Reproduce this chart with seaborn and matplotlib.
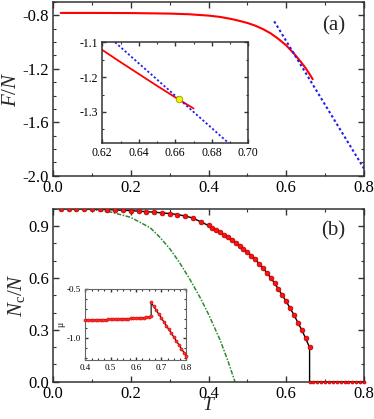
import numpy as np
import pandas as pd
import matplotlib
matplotlib.use("Agg")
import matplotlib.pyplot as plt
import seaborn as sns
from matplotlib.ticker import MultipleLocator, FormatStrFormatter

#---------------------------------------------------
#   data
#---------------------------------------------------
# (a) free energy per particle
T_F = [0.02, 0.10, 0.20, 0.30, 0.35, 0.40, 0.43, 0.46, 0.48, 0.50,
       0.52, 0.54, 0.56, 0.58, 0.60, 0.62, 0.64, 0.65, 0.66, 0.668]
F_N = [-0.782, -0.782, -0.783, -0.787, -0.792, -0.802, -0.812, -0.828, -0.842, -0.857,
       -0.877, -0.903, -0.935, -0.977, -1.025, -1.087, -1.157, -1.196, -1.240, -1.278]
# tangent line (blue dotted)
T_tan = [0.569, 0.800]
F_tan = [-0.845, -1.947]
# inset (a)
T_F_in = [0.620, 0.630, 0.640, 0.650, 0.660, 0.670]
F_N_in = [-1.122, -1.157, -1.191, -1.225, -1.258, -1.290]
T_tan_in = [0.627, 0.690]
F_tan_in = [-1.100, -1.393]
T_star = [0.662]
F_star = [-1.262]

# (b) condensate fraction
T_nc = [0.02, 0.04, 0.06, 0.08, 0.10, 0.12, 0.14, 0.16, 0.18, 0.20,
        0.22, 0.24, 0.26, 0.28, 0.30, 0.32, 0.34, 0.36, 0.38, 0.40,
        0.41, 0.42, 0.43, 0.44, 0.45, 0.46, 0.47, 0.48, 0.49, 0.50,
        0.51, 0.52, 0.53, 0.54, 0.55, 0.56, 0.57, 0.58, 0.59, 0.60,
        0.61, 0.62, 0.63, 0.64, 0.65, 0.66]
Nc_N = [0.999, 0.999, 0.998, 0.998, 0.997, 0.996, 0.995, 0.993, 0.991, 0.989,
        0.986, 0.983, 0.980, 0.976, 0.972, 0.966, 0.958, 0.946, 0.924, 0.903,
        0.888, 0.877, 0.864, 0.850, 0.836, 0.821, 0.804, 0.786, 0.769, 0.750,
        0.728, 0.708, 0.682, 0.657, 0.630, 0.601, 0.569, 0.534, 0.499, 0.464,
        0.424, 0.386, 0.341, 0.299, 0.250, 0.198]
T_zero = [0.66, 0.67, 0.68, 0.69, 0.70, 0.71, 0.72, 0.73, 0.74, 0.75,
          0.76, 0.77, 0.78, 0.79, 0.80]
Nc_zero = [0.0] * len(T_zero)
# green dash-dot curve
T_green = [0.0, 0.05, 0.10, 0.15, 0.20, 0.25, 0.275, 0.30, 0.325, 0.35,
           0.38, 0.40, 0.43, 0.45, 0.468]
N_green = [1.0, 0.999, 0.995, 0.980, 0.950, 0.890, 0.835, 0.770, 0.690, 0.600,
           0.480, 0.390, 0.240, 0.120, 0.0]
# inset (b) chemical potential
T_mu = [0.40, 0.41, 0.42, 0.43, 0.44, 0.45, 0.46, 0.47, 0.48, 0.49,
        0.50, 0.51, 0.52, 0.53, 0.54, 0.55, 0.56, 0.57, 0.58, 0.59,
        0.60, 0.61, 0.62, 0.63, 0.64, 0.65, 0.66,
        0.66, 0.67, 0.68, 0.69, 0.70, 0.71, 0.72, 0.73, 0.74, 0.75,
        0.76, 0.77, 0.78, 0.79, 0.80]
mu = [-0.817, -0.816, -0.815, -0.815, -0.814, -0.813, -0.812, -0.811, -0.810, -0.809,
      -0.808, -0.807, -0.806, -0.805, -0.804, -0.803, -0.801, -0.800, -0.799, -0.797,
      -0.796, -0.794, -0.792, -0.790, -0.787, -0.784, -0.778,
      -0.637, -0.676, -0.715, -0.754, -0.793, -0.832, -0.871, -0.910, -0.949, -0.988,
      -1.027, -1.066, -1.105, -1.144, -1.183]

#---------------------------------------------------
#   style
#---------------------------------------------------
sns.set_style("ticks")
plt.rcParams['font.family'] = ['Liberation Serif', 'DejaVu Serif']
plt.rcParams['mathtext.fontset'] = 'custom'
plt.rcParams['mathtext.it'] = 'Liberation Serif:italic'
plt.rcParams['mathtext.rm'] = 'Liberation Serif'
plt.rcParams['axes.edgecolor'] = '#333333'
plt.rcParams['axes.linewidth'] = 1.1


def style_axes(ax, size, maj, mino):
	ax.tick_params(which='both', direction='in', top=True, right=True,
	               labelsize=size, colors='#333333', labelcolor='black', pad=3)
	ax.tick_params(which='major', length=maj, width=1.0)
	ax.tick_params(which='minor', length=mino, width=0.8)


fig = plt.figure(figsize=(3.74, 4.19), dpi=100)
ax1 = fig.add_axes([0.1417, 0.5807, 0.8316, 0.4146])
ax2 = fig.add_axes([0.1417, 0.0890, 0.8316, 0.4129])
ax1i = fig.add_axes([0.2735, 0.658, 0.3904, 0.2411])
ax2i = fig.add_axes([0.2286, 0.1408, 0.270, 0.1695])

#---------------------------------------------------
#   (a)
#---------------------------------------------------
sns.lineplot(x=T_F, y=F_N, ax=ax1, color='red', lw=1.5, sort=False, estimator=None)
sns.lineplot(x=T_tan, y=F_tan, ax=ax1, color='#2020ee', lw=1.5, sort=False,
             estimator=None, linestyle=(0, (1.2, 1.2)))
ax1.set_xlim(0, 0.8)
ax1.set_ylim(-2.0, -0.7)
ax1.xaxis.set_major_locator(MultipleLocator(0.2))
ax1.xaxis.set_minor_locator(MultipleLocator(0.1))
ax1.set_yticks([-0.8, -1.2, -1.6, -2.0])
ax1.yaxis.set_minor_locator(MultipleLocator(0.1))
ax1.xaxis.set_major_formatter(FormatStrFormatter('%.1f'))
ax1.yaxis.set_major_formatter(FormatStrFormatter('%.1f'))
style_axes(ax1, 12, 4, 2.2)
ax1.set_ylabel('$F/N$', fontsize=15, labelpad=1)
ax1.text(0.94, 0.86, '(a)', transform=ax1.transAxes, fontsize=15, ha='right', va='center')

sns.lineplot(x=T_F_in, y=F_N_in, ax=ax1i, color='red', lw=1.3, sort=False, estimator=None)
sns.lineplot(x=T_tan_in, y=F_tan_in, ax=ax1i, color='#2020ee', lw=1.3, sort=False,
             estimator=None, linestyle=(0, (1.2, 1.2)))
sns.scatterplot(x=T_star, y=F_star, ax=ax1i, color='#f2f200', edgecolor='#999900',
                s=22, linewidth=0.6, zorder=5)
ax1i.set_xlim(0.62, 0.70)
ax1i.set_ylim(-1.39, -1.10)
ax1i.xaxis.set_major_locator(MultipleLocator(0.02))
ax1i.xaxis.set_minor_locator(MultipleLocator(0.01))
ax1i.set_yticks([-1.1, -1.2, -1.3])
ax1i.yaxis.set_minor_locator(MultipleLocator(0.05))
ax1i.xaxis.set_major_formatter(FormatStrFormatter('%.2f'))
ax1i.yaxis.set_major_formatter(FormatStrFormatter('%.1f'))
style_axes(ax1i, 8.5, 3, 1.6)

#---------------------------------------------------
#   (b)
#---------------------------------------------------
line_T = T_nc + T_zero
line_N = Nc_N + Nc_zero
sns.lineplot(x=line_T, y=line_N, ax=ax2, color='black', lw=1.0, sort=False, estimator=None)
sns.lineplot(x=T_green, y=N_green, ax=ax2, color='#2e8b2e', lw=1.1, sort=False,
             estimator=None, linestyle=(0, (3, 1, 1, 1)))
sns.scatterplot(x=T_nc, y=Nc_N, ax=ax2, color='#ff1010', edgecolor='#b00000',
                s=12, linewidth=0.5, zorder=5)
sns.scatterplot(x=T_zero, y=Nc_zero, ax=ax2, color='#ff1010', edgecolor='#b00000',
                s=5, linewidth=0.4, zorder=5, clip_on=False)
ax2.set_xlim(0, 0.8)
ax2.set_ylim(0, 1.0)
ax2.xaxis.set_major_locator(MultipleLocator(0.2))
ax2.xaxis.set_minor_locator(MultipleLocator(0.1))
ax2.set_yticks([0.0, 0.3, 0.6, 0.9])
ax2.yaxis.set_minor_locator(MultipleLocator(0.1))
ax2.xaxis.set_major_formatter(FormatStrFormatter('%.1f'))
ax2.yaxis.set_major_formatter(FormatStrFormatter('%.1f'))
style_axes(ax2, 12, 4, 2.2)
ax2.set_ylabel('$N_{\\mathrm{c}}/N$', fontsize=15, labelpad=1)
ax2.set_xlabel('$T$', fontsize=14, labelpad=-3.5)
ax2.text(0.94, 0.87, '(b)', transform=ax2.transAxes, fontsize=15, ha='right', va='center')

sns.lineplot(x=T_mu, y=mu, ax=ax2i, color='black', lw=0.8, sort=False, estimator=None)
sns.scatterplot(x=T_mu, y=mu, ax=ax2i, color='#ff3030', edgecolor='#dd0000',
                s=5, linewidth=0.4, zorder=5, clip_on=False)
ax2i.set_xlim(0.4, 0.8)
ax2i.set_ylim(-1.22, -0.5)
ax2i.xaxis.set_major_locator(MultipleLocator(0.1))
ax2i.xaxis.set_minor_locator(MultipleLocator(0.025))
ax2i.set_yticks([-0.5, -1.0])
ax2i.yaxis.set_minor_locator(MultipleLocator(0.1))
ax2i.xaxis.set_major_formatter(FormatStrFormatter('%.1f'))
ax2i.yaxis.set_major_formatter(FormatStrFormatter('%.1f'))
style_axes(ax2i, 6.5, 2.2, 1.2)
for sp in ax2i.spines.values():
	sp.set_linewidth(0.8)
	sp.set_color('#666666')
ax2i.set_ylabel('μ', fontsize=7, labelpad=1)

fig.savefig('out.png', dpi=100)
